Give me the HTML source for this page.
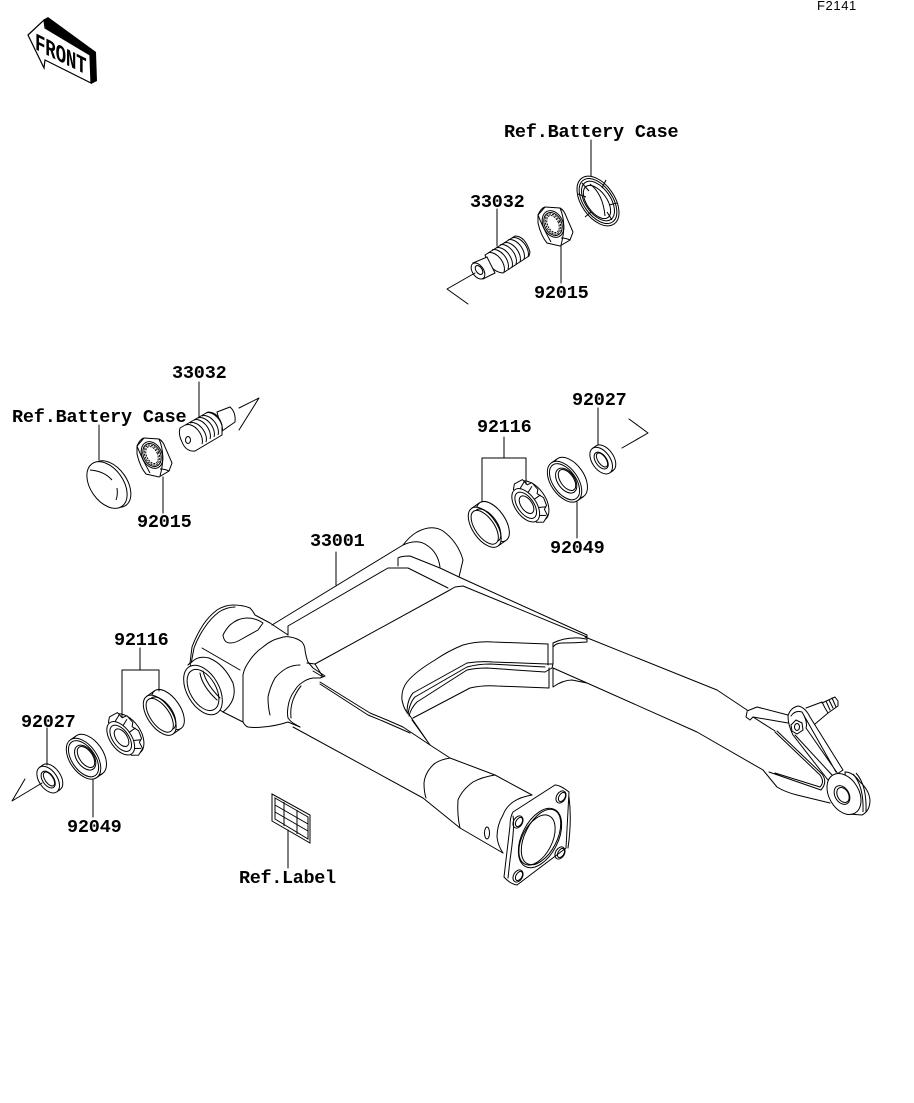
<!DOCTYPE html>
<html><head><meta charset="utf-8"><style>
html,body{margin:0;padding:0;background:#fff}
svg{display:block}
text{font-family:"Liberation Mono",monospace;font-weight:bold;font-size:18.5px;fill:#000;letter-spacing:-.2px}
.l{fill:none;stroke:#000;stroke-width:1;stroke-linejoin:round;stroke-linecap:round}
.w{fill:#fff;stroke:#000;stroke-width:1}
.n{fill:none;stroke:#000;stroke-width:1}
</style></head><body>
<svg width="914" height="1103" viewBox="0 0 914 1103" xmlns="http://www.w3.org/2000/svg">
<defs>
<path id="t" class="n" d="m0 0a8 13 -35 0 1 16 19"/>
<g id="nut">
<path class="w" d="M545 207L560 208Q564 210 566 216L573 232L570 240L560 246L547 243Q541 236 538 223L538 215Z"/>
<path class="n" d="M538 215Q543 228 551 242M560 208Q567 224 561 245M545 207Q541 208 538 215M570 240Q566 238 561 238"/>
<ellipse class="n" cx="553" cy="224" rx="10" ry="14" transform="rotate(-25 553 224)"/>
<ellipse class="n" cx="553" cy="224" rx="8.5" ry="12" transform="rotate(-25 553 224)"/>
<ellipse class="n" cx="553" cy="224" rx="7" ry="10.5" stroke-dasharray="2 1" transform="rotate(-25 553 224)"/>
<ellipse class="n" cx="553" cy="224" rx="5.5" ry="9" stroke-dasharray="2 1" transform="rotate(-25 553 224)"/>
</g>
<g id="cup">
<ellipse class="w" cx="6" rx="12" ry="23"/>
<path class="n" d="M-4 -23L6 -23M-4 23L6 23"/>
<ellipse class="w" cx="-4" rx="12" ry="23"/>
<ellipse class="n" cx="-4" rx="9.5" ry="19.5"/>
<path class="n" d="M-1 -19A10 19 0 0 1 -1 19"/>
</g>
<g id="seal">
<ellipse class="w" cx="4" rx="13.5" ry="23"/>
<path class="n" d="M-3 -23L4 -23M-3 23L4 23"/>
<ellipse class="w" cx="-3" rx="13.5" ry="23"/>
<ellipse class="n" cx="-3" rx="11.5" ry="20.5"/>
<ellipse class="n" cx="-1" rx="8.5" ry="14"/>
<ellipse class="n" cx="0" rx="6.5" ry="12"/>
</g>
<g id="wash">
<ellipse class="w" cx="3" rx="9" ry="15"/>
<path class="n" d="M-1 -15L3 -15M-1 15L3 15"/>
<ellipse class="w" cx="-1" rx="9" ry="15"/>
<ellipse class="n" cx="-1" rx="5.5" ry="9.5"/>
<ellipse class="n" cx="0" rx="4" ry="8"/>
</g>
<g id="roll">
<ellipse class="w" cx="3" rx="14" ry="23"/>
<path class="w" d="M-5 -20L-1 -24L8 -23L9 -16L14 -15L15 -6L12 -3L15 4L13 12L9 14L8 21L1 24L-5 20Z"/>
<ellipse class="w" cx="-4" rx="10.5" ry="19"/>
<ellipse class="n" cx="-4" rx="8" ry="15"/>
<ellipse class="n" cx="-3" rx="5.5" ry="10"/>
<path class="n" d="M1 -17L8 -20M5 -9L12 -12M6 0L14 0M5 9L12 13M1 16L7 20"/>
</g>
</defs>

<!-- FRONT -->
<path d="M43 20L48 17L96 52L97 81L91 84L89 57L47 31Z" fill="#000"/>
<path d="M28 35L44 20L45 28L90 55L91 83L45 60L44 68Z" fill="#fff" stroke="#000" stroke-width="1.2"/>
<text transform="matrix(1 .5 0 1.4 35 49)" style="font-size:17.5px">FRONT</text>
<text x="817" y="10" style="font-size:13px;font-weight:normal;letter-spacing:.6px;font-family:'Liberation Sans',sans-serif">F2141</text>

<!-- Swingarm: pivot tube -->
<path class="l" d="M272 625L403 545M403 545Q410 536 417 532Q432 524 443 531Q458 542 463 560L459 577M403 545Q418 538 428 546Q438 553 440 567"/>
<path class="l" d="M398 566L398 558Q401 556 410 556L440 568L459 577L587 635L587 642Q575 643 562 643Q556 643 553 647M288 635L288 626L388 568L408 568L448 588M315 664L448 591L455 587L463 586L587 637"/>
<path class="l" d="M585 637L717 690L747 710"/>
<path class="l" d="M553 643Q565 637 580 638L586 639M548 644L548 665M553 643L553 664M547 664L553 664L552 668L545 672M549 668L549 688M553 668L553 687M553 668L587 683L697 732L763 770M553 687Q563 680 572 680L587 683"/>
<!-- yoke arches -->
<path class="l" d="M548 644L493 642Q478 641 463 645Q448 651 435 660Q415 672 407 682Q401 690 402 700Q404 710 408 713"/>
<path class="l" d="M547 664L493 662Q480 661 467 663L413 693Q407 700 407 713M545 667L490 664Q478 664 467 667L415 697Q410 702 408 714M545 672L487 668Q476 668 467 670L417 702Q411 708 409 716"/>
<path class="l" d="M549 688L497 686Q483 685 470 688L413 718M412 720L430 745M408 713L430 745"/>
<!-- housing -->
<path class="l" d="M188 665L190 663L192 647Q196 636 203 625Q209 616 217 610Q225 605 233 605Q243 605 250 608Q253 611 255 615L270 623L288 635"/>
<path class="l" d="M191 664L194 648Q198 637 205 627Q211 618 219 612Q227 607 235 607"/>
<path class="l" d="M202 648L240 670"/>
<path class="l" d="M223 635Q226 629 230 625Q238 618 247 618Q256 618 263 623L258 630L240 640Q235 643 230 643Q224 643 223 635Z"/>
<path class="l" d="M243 722L243 675Q244 669 248 663Q254 653 263 647Q271 640 280 638Q285 636 290 637Q297 638 302 642Q305 646 305 650Q306 657 308 662L313 668L325 676L320 678"/>
<path class="l" d="M223 712L243 722Q245 726 248 727Q255 728 263 727Q276 726 288 722L300 727"/>
<path class="l" d="M320 678L313 678Q307 679 303 682Q298 685 295 690Q289 698 288 707Q287 713 288 718Q290 721 293 723L300 727M291 718Q290 708 293 700Q296 692 301 686"/>
<path class="l" d="M300 665Q293 665 287 668Q280 672 275 678Q270 687 268 697Q268 707 270 715"/>
<path class="l" d="M307 663L315 664L323 677L313 671"/>
<path class="w" d="M190 664Q197 655 209 658Q224 664 233 683Q238 700 223 712L205 700Z"/>
<ellipse class="w" cx="203" cy="690" rx="16" ry="27" transform="rotate(-30 203 690)"/>
<ellipse class="n" cx="203" cy="690" rx="13" ry="22.5" transform="rotate(-30 203 690)"/>
<path class="l" d="M200 673Q202 686 217 700M203 671Q206 684 220 698"/>
<!-- tube -->
<path class="l" d="M320 682L370 713L387 720L403 727L430 745L450 758L495 775L532 795"/>
<path class="l" d="M320 684L368 715L385 722L401 729L410 733"/>
<path class="l" d="M293 727L423 798L460 828L503 853"/>
<path class="l" d="M450 758Q438 760 433 765Q425 773 424 783Q424 792 426 798"/>
<path class="l" d="M495 775Q482 777 473 782Q462 790 458 800Q457 815 460 828"/>
<ellipse class="n" cx="487" cy="833" rx="2.5" ry="6"/>
<!-- flange -->
<path class="l" d="M532 795Q520 797 513 802Q506 807 503 815Q497 825 497 837Q498 846 503 853"/>
<path class="w" d="M513 812L555 785Q560 785 569 792L566 848L517 885Q510 884 504 877L510 826Q510 817 513 812Z"/>
<path class="l" d="M513 816Q515 826 510 860L508 878M569 797Q572 820 568 848"/>
<ellipse class="n" cx="540" cy="838" rx="18" ry="32" transform="rotate(27 540 838)"/>
<ellipse class="n" cx="541" cy="837" rx="16" ry="30" transform="rotate(27 541 837)"/>
<ellipse class="n" cx="537" cy="840" rx="15" ry="27" transform="rotate(27 537 840)"/>
<ellipse class="n" cx="518" cy="822" rx="4.5" ry="6.5" transform="rotate(30 518 822)"/>
<ellipse class="n" cx="519" cy="822" rx="3" ry="5" transform="rotate(30 519 822)"/>
<ellipse class="n" cx="561" cy="797" rx="4.5" ry="6.5" transform="rotate(30 561 797)"/>
<ellipse class="n" cx="562" cy="797" rx="3" ry="5" transform="rotate(30 562 797)"/>
<ellipse class="n" cx="560" cy="853" rx="4.5" ry="6.5" transform="rotate(30 560 853)"/>
<ellipse class="n" cx="561" cy="853" rx="3" ry="5" transform="rotate(30 561 853)"/>
<ellipse class="n" cx="518" cy="876" rx="4.5" ry="6.5" transform="rotate(30 518 876)"/>
<ellipse class="n" cx="519" cy="876" rx="3" ry="5" transform="rotate(30 519 876)"/>
<!-- clevis end -->
<path class="l" d="M747 711L757 707L788 715M747 712L746 717L750 720L753 717L788 723M753 717L775 731"/>
<path class="l" d="M775 732L820 775Q825 782 820 787L775 773M777 731L822 774Q828 782 821 790L769 772"/>
<path class="l" d="M763 770L777 787Q785 792 797 795L830 803"/>
<path class="l" d="M806 708L822 702L825 708L828 713L815 724"/>
<path class="l" d="M822 703L835 697L838 701L838 706L828 713M826 701L830 710M829 700L833 708M832 698L836 707"/>
<path class="w" d="M788 716Q790 708 798 706Q805 707 810 717L843 770L828 780L793 735Q788 725 788 716Z"/>
<path class="l" d="M791 716Q795 710 802 712L836 772M795 735L832 775M802 712Q808 722 806 728L838 774"/>
<path class="w" d="M791 725L796 720L802 723L803 730L797 734L792 731Z"/>
<ellipse class="n" cx="797" cy="727" rx="2.5" ry="3.5"/>
<path class="w" d="M845 772Q853 772 860 782Q869 790 870 800Q870 811 862 815L848 814L845 772Z"/>
<ellipse class="w" cx="844" cy="794" rx="15" ry="22" transform="rotate(-30 844 794)"/>
<path class="n" d="M853 774Q864 786 863 812M856 773Q867 785 866 812"/>
<ellipse class="n" cx="842" cy="795" rx="7" ry="10" transform="rotate(-30 842 795)"/>
<ellipse class="n" cx="843" cy="795" rx="5.5" ry="8" transform="rotate(-30 843 795)"/>

<!-- Ref.Label sheet -->
<path class="w" d="M272 794L310 815L310 843L272 821Z"/>
<path class="n" d="M275 798L308 817L308 839L275 819ZM275 805L308 824M275 812L308 831M284 802L284 826M297 810L297 834"/>
<path class="l" d="M288 830L288 868"/>

<!-- Right bearings -->
<use href="#cup" transform="translate(488 525) rotate(-35)"/>
<use href="#roll" transform="translate(529 503) rotate(-35)"/>
<use href="#seal" transform="translate(567 480) rotate(-35)"/>
<use href="#wash" transform="translate(602 460) rotate(-35)"/>
<path class="l" d="M482 502L482 458L526 458L526 484M504 458L504 437M577 502L577 538M598 408L598 445"/>
<path class="l" d="M629 419L648 433L622 448"/>

<!-- Left bearings -->
<use href="#cup" transform="translate(163 713) rotate(-35)"/>
<use href="#roll" transform="translate(124 736) rotate(-35)"/>
<use href="#seal" transform="translate(86 757) rotate(-35)"/>
<use href="#wash" transform="translate(49 779) rotate(-35)"/>
<path class="l" d="M122 717L122 670L159 670L159 691M140 670L140 648M93 779L93 817M47 728L47 765"/>
<path class="l" d="M25 779L12 801L42 783"/>

<!-- Top group -->
<g>
<ellipse class="w" cx="598" cy="201" rx="16.5" ry="28" transform="rotate(-35 598 201)"/>
<ellipse class="n" cx="598" cy="201" rx="14.5" ry="25.5" transform="rotate(-35 598 201)"/>
<ellipse class="n" cx="598" cy="201" rx="12.5" ry="22.5" transform="rotate(-35 598 201)"/>
<ellipse class="n" cx="597" cy="202" rx="10" ry="19" transform="rotate(-35 597 202)"/>
<path class="n" d="M582 183L589 191M606 180L602 188M578 194L586 197M585 217L591 212M612 220L607 212M617 203L609 205"/>
<path class="n" d="M590 184Q603 194 605 216"/>
</g>
<use href="#nut"/>
<path class="w" d="M485 255L515 236Q525 236 530 252L529 256L503 273Q493 272 488 262Z"/>
<use href="#t" x="488" y="253"/><use href="#t" x="492" y="250"/><use href="#t" x="496" y="248"/><use href="#t" x="500" y="245"/><use href="#t" x="504" y="243"/><use href="#t" x="508" y="240"/><use href="#t" x="512" y="238"/>
<path class="w" d="M473 263L487 257L495 273L483 279Z"/>
<ellipse class="w" cx="478" cy="271" rx="5.5" ry="9" transform="rotate(-35 478 271)"/>
<ellipse class="n" cx="479" cy="270" rx="3" ry="5" transform="rotate(-35 479 270)"/>
<path class="l" d="M591 140L591 176M497 209L497 246M561 246L561 283"/>
<path class="l" d="M468 304L447 289L475 273"/>

<!-- Left group -->
<path class="w" d="M217 412L230 407Q236 412 235 422L222 431Z"/>
<path class="w" d="M180 428L208 412Q218 412 222 425L222 435L195 451Q186 452 182 442Q178 434 180 428Z"/>
<use href="#t" x="186" y="425"/><use href="#t" x="190" y="423"/><use href="#t" x="194" y="420"/><use href="#t" x="198" y="418"/><use href="#t" x="202" y="416"/><use href="#t" x="206" y="413"/>
<ellipse class="n" cx="188" cy="440" rx="2.5" ry="3.5"/>
<path class="l" d="M239 408L259 398L239 430M199 382L199 417"/>
<use href="#nut" x="-401" y="231"/>
<path class="l" d="M163 477L163 513M99 425L99 460"/>
<ellipse class="w" cx="111" cy="484" rx="16" ry="26" transform="rotate(-35 111 484)"/>
<ellipse class="w" cx="107" cy="485" rx="16.5" ry="26" transform="rotate(-35 107 485)"/>
<path class="n" d="M90 470Q104 471 112 480M116 500Q118 495 117 488"/>

<!-- Swingarm leader -->
<path class="l" d="M336 552L336 585"/>

<!-- Labels -->
<text x="504" y="137">Ref.Battery Case</text>
<text x="470" y="207">33032</text>
<text x="534" y="298">92015</text>
<text x="172" y="378">33032</text>
<text x="12" y="422">Ref.Battery Case</text>
<text x="137" y="527">92015</text>
<text x="477" y="432">92116</text>
<text x="572" y="405">92027</text>
<text x="550" y="553">92049</text>
<text x="310" y="546">33001</text>
<text x="114" y="645">92116</text>
<text x="21" y="727">92027</text>
<text x="67" y="832">92049</text>
<text x="239" y="883" style="letter-spacing:-.35px">Ref.Label</text>
</svg>
</body></html>
